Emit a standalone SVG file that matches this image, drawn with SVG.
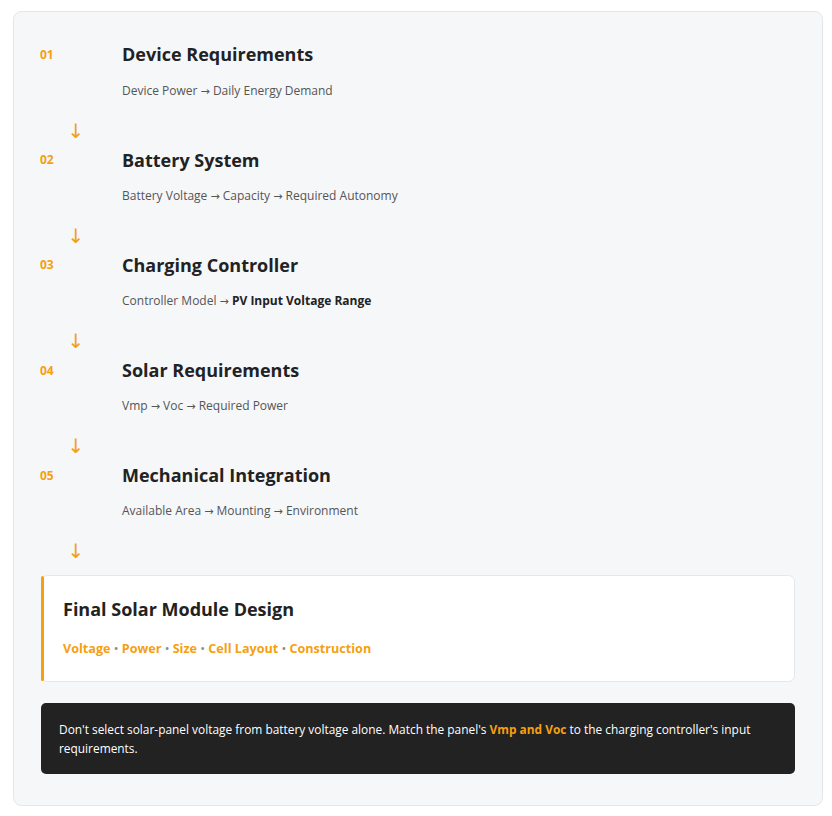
<svg xmlns="http://www.w3.org/2000/svg" width="832" height="816" viewBox="0 0 832 816">
<style>
text{font-family:"Open Sans","Noto Sans","Liberation Sans",sans-serif}
.num{font-size:12px;font-weight:700;fill:#f5a00f}
.title{font-size:18px;font-weight:700;fill:#222}
.sub{font-size:12px;fill:#555}
.b{font-weight:700;fill:#222}
.ar{font-family:"DejaVu Sans",sans-serif;font-size:11px}
.arr{font-family:"DejaVu Sans",sans-serif;font-size:20px;fill:#f5a00f}
.or{fill:#f5a00f;font-weight:700}
.dot{fill:#888;font-weight:400}
</style>
<rect width="832" height="816" fill="#ffffff"/>
<rect x="13.5" y="11.5" width="809" height="794" rx="8" fill="#f6f7f9" stroke="#e3e5e8"/>
<g id="step1">
<text class="num" x="40" y="59">01</text>
<text class="title" x="122" y="61">Device Requirements</text>
<text class="sub" x="122" y="95">Device Power <tspan class="ar">→</tspan> Daily Energy Demand</text>
</g>
<g id="step2">
<text class="num" x="40" y="164">02</text>
<text class="title" x="122" y="167">Battery System</text>
<text class="sub" x="122" y="200">Battery Voltage <tspan class="ar">→</tspan> Capacity <tspan class="ar">→</tspan> Required Autonomy</text>
</g>
<g id="step3">
<text class="num" x="40" y="269">03</text>
<text class="title" x="122" y="272">Charging Controller</text>
<text class="sub" x="122" y="305">Controller Model <tspan class="ar">→</tspan> <tspan class="b">PV Input Voltage Range</tspan></text>
</g>
<g id="step4">
<text class="num" x="40" y="375">04</text>
<text class="title" x="122" y="377">Solar Requirements</text>
<text class="sub" x="122" y="410">Vmp <tspan class="ar">→</tspan> Voc <tspan class="ar">→</tspan> Required Power</text>
</g>
<g id="step5">
<text class="num" x="40" y="480">05</text>
<text class="title" x="122" y="482">Mechanical Integration</text>
<text class="sub" x="122" y="515">Available Area <tspan class="ar">→</tspan> Mounting <tspan class="ar">→</tspan> Environment</text>
</g>
<g id="connectors">
<text class="arr" x="76" y="138" text-anchor="middle">↓</text>
<text class="arr" x="76" y="243" text-anchor="middle">↓</text>
<text class="arr" x="76" y="348" text-anchor="middle">↓</text>
<text class="arr" x="76" y="453" text-anchor="middle">↓</text>
<text class="arr" x="76" y="558" text-anchor="middle">↓</text>
</g>
<g id="final">
<rect x="41.5" y="575.5" width="753" height="106" rx="6" fill="#ffffff" stroke="#e5e7ea"/>
<rect x="41" y="576" width="3" height="105" rx="1.5" fill="#f5a00f"/>
<text class="title" x="63" y="616">Final Solar Module Design</text>
<text x="63" y="653" font-size="12.6"><tspan class="or">Voltage</tspan><tspan class="dot"> • </tspan><tspan class="or">Power</tspan><tspan class="dot"> • </tspan><tspan class="or">Size</tspan><tspan class="dot"> • </tspan><tspan class="or">Cell Layout</tspan><tspan class="dot"> • </tspan><tspan class="or">Construction</tspan></text>
</g>
<g id="note">
<rect x="41" y="703" width="754" height="71" rx="5" fill="#222222"/>
<text x="59" y="734" font-size="11.9" fill="#ffffff">Don't select solar-panel voltage from battery voltage alone. Match the panel's <tspan class="or">Vmp and Voc</tspan> to the charging controller's input</text>
<text x="59" y="753" font-size="11.9" fill="#ffffff">requirements.</text>
</g>
</svg>
